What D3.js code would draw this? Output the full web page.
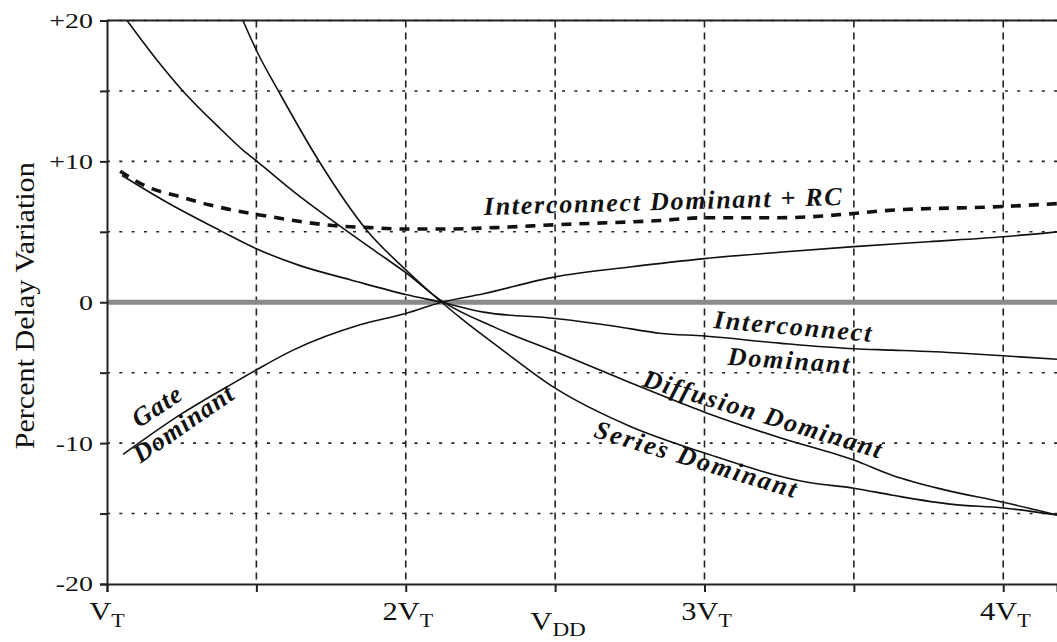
<!DOCTYPE html>
<html>
<head>
<meta charset="utf-8">
<script src="https://cdn.jsdelivr.net/npm/d3@7"></script>
<style>
  html, body { margin: 0; padding: 0; background: #fff; }
  svg { display: block; }
</style>
</head>
<body>
<svg id="chart" width="1057" height="642"></svg>
<script>
// Supply voltage in multiples of V_T, percent delay variation
const interconnectRC = [
  [1.044, 9.3], [1.134, 8.2], [1.244, 7.5], [1.345, 6.9], [1.469, 6.35],
  [1.569, 6.0], [1.656, 5.7], [1.78, 5.4], [1.88, 5.3], [1.99, 5.2],
  [2.15, 5.2], [2.3, 5.3], [2.5, 5.5], [2.85, 5.8], [3.0, 6.0],
  [3.25, 6.0], [3.5, 6.3], [3.6, 6.5], [4.0, 6.8], [4.18, 7.0]
];
const interconnect = [
  [1.05, 9.0], [1.2, 7.1], [1.378, 5.1], [1.5, 3.8], [1.646, 2.6],
  [1.814, 1.6], [2.0, 0.55], [2.12, 0.0], [2.26, -0.7], [2.5, -1.15],
  [2.7, -1.7], [2.85, -2.2], [3.0, -2.4], [3.25, -2.9], [3.5, -3.3],
  [3.63, -3.4], [3.85, -3.6], [4.0, -3.8], [4.18, -4.05]
];
const gate = [
  [1.054, -10.8], [1.244, -8.0], [1.402, -6.0], [1.5, -4.8], [1.623, -3.4],
  [1.847, -1.6], [2.0, -0.8], [2.12, 0.0], [2.26, 0.6], [2.5, 1.8],
  [2.75, 2.5], [3.0, 3.1], [3.25, 3.55], [3.5, 3.95], [3.75, 4.3],
  [4.0, 4.65], [4.18, 5.0]
];
const diffusion = [
  [1.067, 20.0], [1.167, 17.2], [1.254, 15.0], [1.38, 12.3], [1.455, 10.8],
  [1.502, 10.0], [1.64, 7.6], [1.78, 5.4], [1.9, 3.6], [2.0, 2.1],
  [2.12, 0.1], [2.3, -1.8], [2.5, -3.5], [2.75, -5.7], [3.0, -7.8],
  [3.25, -9.6], [3.5, -11.2], [3.63, -12.3], [3.8, -13.3], [4.0, -14.2],
  [4.18, -15.1]
];
const series = [
  [1.455, 20.0], [1.502, 17.8], [1.579, 14.8], [1.713, 9.9], [1.87, 5.1],
  [2.0, 2.3], [2.12, 0.0], [2.2, -1.4], [2.312, -3.2], [2.5, -6.1],
  [2.75, -8.8], [3.0, -10.7], [3.35, -12.8], [3.5, -13.2], [3.63, -13.7],
  [3.83, -14.35], [4.0, -14.6], [4.18, -15.1]
];

// Axis ticks and labels
const xTickValues = [1, 1.5, 2, 2.5, 3, 3.5, 4];
const xLabelValues = [1, 2, 3, 4];
const xLabelPrefixes = ["", "2", "3", "4"];
const yTickValues = [-20, -15, -10, -5, 0, 5, 10, 15, 20];
const yLabelValues = [-20, -10, 0, 10, 20];
const yLabelTexts = ["-20", "-10", "0", "+10", "+20"];
const xGridValues = [1.5, 2, 2.5, 3, 3.5, 4];
const yGridValues = [-15, -10, -5, 5, 10, 15, 20];

// Curve annotations, placed in data units
const curveLabels = [
  { text: "Interconnect Dominant + RC", x: 2.861, y: 6.55, angle: -1.6, len: 358 },
  { text: "Interconnect", x: 3.293, y: -2.32, angle: 5, len: 158 },
  { text: "Dominant", x: 3.28, y: -4.74, angle: 4, len: 122 },
  { text: "Diffusion Dominant", x: 3.186, y: -8.52, angle: 17, len: 248 },
  { text: "Series Dominant", x: 2.962, y: -11.73, angle: 17, len: 210 },
  { text: "Gate", x: 1.182, y: -7.9, angle: -33, len: 54 },
  { text: "Dominant", x: 1.271, y: -9.14, angle: -34.5, len: 116 }
];

const FONT = "'Liberation Serif', 'Times New Roman', Times, serif";
const INK = "#111";

const svg = d3.select("#chart");
const W = 1057, H = 642;
svg.append("rect").attr("width", W).attr("height", H).attr("fill", "#fff");

const x = d3.scaleLinear().domain([1, 4.18]).range([107, 1057]);
const y = d3.scaleLinear().domain([-20, 20]).range([584, 20.5]);

svg.append("defs").append("clipPath").attr("id", "plot")
  .append("rect").attr("x", x(1)).attr("y", y(20)).attr("width", x(4.18) - x(1)).attr("height", y(-20) - y(20));

// Grid
const grid = svg.append("g");
grid.selectAll(".hg").data(yGridValues).join("line")
  .attr("x1", x(1)).attr("x2", x(4.18))
  .attr("y1", d => y(d)).attr("y2", d => y(d))
  .attr("stroke", "#222").attr("stroke-width", 1.6)
  .attr("stroke-dasharray", "3,9.3");
grid.selectAll(".vg").data(xGridValues).join("line")
  .attr("x1", d => x(d)).attr("x2", d => x(d))
  .attr("y1", y(20)).attr("y2", y(-20))
  .attr("stroke", "#222").attr("stroke-width", 1.6)
  .attr("stroke-dasharray", "7,5");

// Zero reference
svg.append("line")
  .attr("x1", x(1)).attr("x2", x(4.18)).attr("y1", y(0)).attr("y2", y(0))
  .attr("stroke", "#8a8a8a").attr("stroke-width", 5);

// Curves
const line = d3.line().x(d => x(d[0])).y(d => y(d[1])).curve(d3.curveMonotoneX);
const curves = svg.append("g").attr("clip-path", "url(#plot)");
[interconnect, gate, diffusion, series].forEach(s => {
  curves.append("path").datum(s).attr("d", line)
    .attr("fill", "none").attr("stroke", INK).attr("stroke-width", 1.6);
});
curves.append("path").datum(interconnectRC).attr("d", line)
  .attr("fill", "none").attr("stroke", INK).attr("stroke-width", 3.6)
  .attr("stroke-dasharray", "10,8");

// Axes
const axisColor = "#222";
const yAxis = svg.append("g").attr("transform", `translate(${x(1)},0)`)
  .call(d3.axisLeft(y).tickValues(yTickValues).tickSize(7).tickFormat(""));
const xAxis = svg.append("g").attr("transform", `translate(0,${y(-20)})`)
  .call(d3.axisBottom(x).tickValues(xTickValues).tickSize(8).tickFormat(""));
[yAxis, xAxis].forEach(a => {
  a.select(".domain").attr("stroke", axisColor).attr("stroke-width", 2);
  a.selectAll(".tick line").attr("stroke", axisColor).attr("stroke-width", 2);
});
svg.append("line")
  .attr("x1", x(1)).attr("x2", x(4.18)).attr("y1", y(20)).attr("y2", y(20))
  .attr("stroke", axisColor).attr("stroke-width", 2);

// Y tick labels
svg.selectAll(".ylab").data(yLabelValues).join("text")
  .attr("transform", d => `translate(93,${y(d)}) scale(1.27,1)`)
  .attr("text-anchor", "end").attr("dominant-baseline", "central")
  .attr("font-family", FONT).attr("font-size", 22).attr("fill", INK)
  .text((d, i) => yLabelTexts[i]);

// X tick labels with subscript T
const xl = svg.selectAll(".xlab").data(xLabelValues).join("text")
  .attr("transform", (d, i) => `translate(${x(d) + (i ? 2 : 0)},620) scale(1.22,1)`)
  .attr("text-anchor", "middle")
  .attr("font-family", FONT).attr("font-size", 25).attr("fill", INK);
xl.append("tspan").text((d, i) => xLabelPrefixes[i] + "V");
xl.append("tspan").attr("dy", 7).attr("font-size", 18).text("T");

// Axis titles
const vdd = svg.append("text")
  .attr("transform", `translate(${x(2.51)},630) scale(1.22,1)`)
  .attr("text-anchor", "middle")
  .attr("font-family", FONT).attr("font-size", 25).attr("fill", INK);
vdd.append("tspan").text("V");
vdd.append("tspan").attr("dy", 6).attr("font-size", 19).text("DD");

svg.append("text")
  .attr("transform", `translate(34,${(y(-10.4) + y(9.9)) / 2}) rotate(-90)`)
  .attr("text-anchor", "middle")
  .attr("textLength", 287).attr("lengthAdjust", "spacingAndGlyphs")
  .attr("font-family", FONT).attr("font-size", 28).attr("fill", INK)
  .text("Percent Delay Variation");

// Curve annotations
svg.selectAll(".clab").data(curveLabels).join("text")
  .attr("transform", d => `translate(${x(d.x)},${y(d.y)}) rotate(${d.angle})`)
  .attr("text-anchor", "middle")
  .attr("textLength", d => d.len).attr("lengthAdjust", "spacing")
  .attr("font-family", FONT).attr("font-size", 26)
  .attr("font-weight", "bold").attr("font-style", "italic").attr("fill", INK)
  .text(d => d.text);
</script>
</body>
</html>
